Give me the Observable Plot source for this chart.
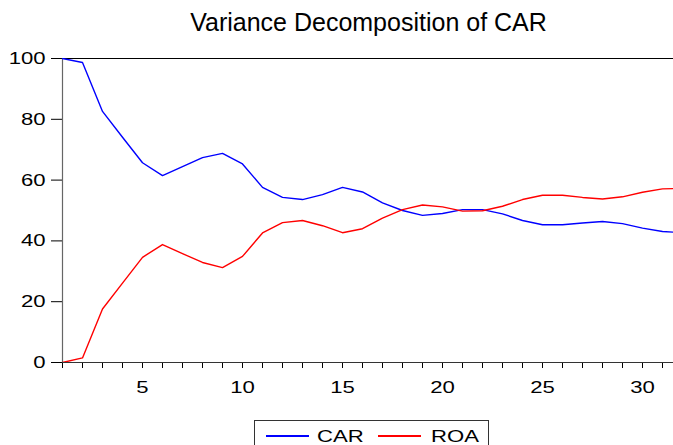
<!DOCTYPE html>
<html><head><meta charset="utf-8">
<script src="https://cdn.jsdelivr.net/npm/d3@7"></script>
<script src="https://cdn.jsdelivr.net/npm/@observablehq/plot@0.6"></script>
<style>
body{margin:0;width:673px;height:445px;overflow:hidden;background:#fff;position:relative;font-family:"Liberation Sans",Arial,sans-serif;color:#000;}
#title{position:absolute;left:63px;width:611px;top:10px;font-size:25px;line-height:25px;text-align:center;white-space:nowrap;}
#chart{position:absolute;left:0;top:45px;}
#legend{position:absolute;left:254px;top:420px;width:233px;height:30px;border:1px solid #333;background:#fff;}
#legend .sw{position:absolute;height:1.5px;width:43px;top:14px;}
#legend .lb{position:absolute;top:7px;font-size:17px;line-height:17px;transform:scaleX(1.3);transform-origin:0 0;white-space:nowrap;}
</style></head>
<body>
<div id="title">Variance Decomposition of CAR</div>
<div id="chart"></div>
<div id="legend"></div>
<script>
const periods = [1,2,3,4,5,6,7,8,9,10,11,12,13,14,15,16,17,18,19,20,21,22,23,24,25,26,27,28,29,30,31,32];
const carValues = [100,98.7,82.6,74.1,65.7,61.5,64.4,67.4,68.8,65.3,57.6,54.3,53.6,55.2,57.6,56.1,52.5,50.0,48.4,49.0,50.3,50.3,48.9,46.7,45.3,45.3,45.9,46.4,45.7,44.2,43.1,42.7];
const roaValues = [0,1.5,17.6,26.1,34.6,38.8,35.8,32.9,31.2,34.9,42.6,46.0,46.7,45.0,42.7,44.0,47.5,50.3,51.8,51.2,49.8,49.9,51.4,53.6,55.0,55.0,54.3,53.8,54.5,56.0,57.1,57.3];
const seriesNames = ["CAR","ROA"];
const seriesColors = ["#0000ff","#ff0000"];
const yTicks = [0,20,40,60,80,100];
const xLabelTicks = [5,10,15,20,25,30];
const xMinorTicks = d3.range(1,32);

const rows = [];
periods.forEach((p,i)=>{
  rows.push({period:p, value:carValues[i], series:seriesNames[0]});
  rows.push({period:p, value:roaValues[i], series:seriesNames[1]});
});

const W = 673, H = 365, ML = 62, MR = 0, MT = 13, MB = 48;
const plot = Plot.plot({
  width: W, height: H,
  marginLeft: ML, marginRight: MR, marginTop: MT, marginBottom: MB,
  style: {fontFamily: '"Liberation Sans", Arial, sans-serif', fontSize: "17px", color: "#000", background: "#fff", overflow: "visible"},
  x: {domain: [1, 1 + (W-ML-MR)/20], axis: null},
  y: {domain: [0,100], axis: null},
  color: {domain: seriesNames, range: seriesColors},
  marks: [
    Plot.axisY({ticks: yTicks, tickSize: 11, tickPadding: 6, label: null}),
    Plot.axisX({ticks: xMinorTicks, tickSize: 6, text: null, label: null}),
    Plot.axisX({ticks: xLabelTicks, tickSize: 0, tickPadding: 18, label: null}),
    Plot.ruleY([100], {stroke: "#000", strokeWidth: 1.2}),
    Plot.ruleX([1], {stroke: "#666", strokeWidth: 1.2}),
    Plot.ruleY([0], {stroke: "#333", strokeWidth: 1.2}),
    Plot.line(rows, {x: "period", y: "value", z: "series", stroke: "series", strokeWidth: 1.4, clip: true})
  ]
});
document.getElementById("chart").append(plot);
plot.querySelectorAll('g[aria-label$="tick label"] text').forEach(t => {
  const w = t.getComputedTextLength();
  if (w > 0) { t.setAttribute("textLength", w*1.3); t.setAttribute("lengthAdjust","spacingAndGlyphs"); }
});

const legend = document.getElementById("legend");
const swLeft = [11,123], lbLeft = [62,176];
seriesNames.forEach((n,i)=>{
  const sw = document.createElement("div");
  sw.className = "sw"; sw.style.left = swLeft[i]+"px"; sw.style.backgroundColor = seriesColors[i];
  legend.append(sw);
  const lb = document.createElement("span");
  lb.className = "lb"; lb.style.left = lbLeft[i]+"px"; lb.textContent = n;
  legend.append(lb);
});
</script>
</body></html>
